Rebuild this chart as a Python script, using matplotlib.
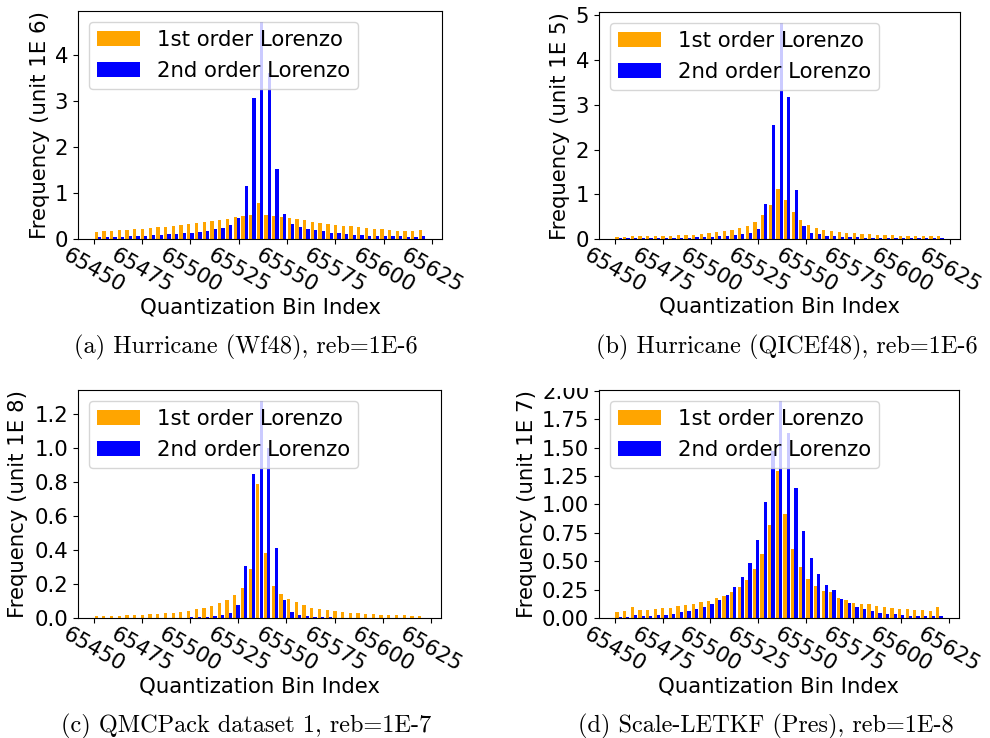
import numpy as np
import matplotlib
matplotlib.use("Agg")
import matplotlib.pyplot as plt
from matplotlib.ticker import MultipleLocator
from matplotlib.transforms import Bbox, TransformedBbox

# Quantization bins shown (every 4th bin around the zero-error bin 65536)
bin_index = np.arange(65452, 65621, 4)
tick_values = [65450, 65475, 65500, 65525, 65550, 65575, 65600, 65625]
tick_labels = [str(v) for v in tick_values]

series_names = ["1st order Lorenzo", "2nd order Lorenzo"]

# (a) Hurricane (Wf48), unit 1E6
wf48_first = [0.159, 0.174, 0.181, 0.196, 0.203, 0.217, 0.232, 0.246, 0.261, 0.275,
              0.297, 0.312, 0.333, 0.355, 0.377, 0.406, 0.428, 0.449, 0.478, 0.500,
              0.522, 0.783, 0.529, 0.507, 0.486, 0.464, 0.435, 0.413, 0.384, 0.362,
              0.333, 0.312, 0.297, 0.283, 0.268, 0.246, 0.225, 0.217, 0.203, 0.188,
              0.181, 0.174, 0.203]
wf48_second = [0.050, 0.050, 0.050, 0.058, 0.065, 0.072, 0.080, 0.087, 0.094, 0.109,
               0.116, 0.130, 0.145, 0.167, 0.188, 0.217, 0.254, 0.312, 0.464, 1.167,
               3.065, 4.730, 3.609, 1.529, 0.551, 0.341, 0.268, 0.225, 0.203, 0.174,
               0.138, 0.130, 0.116, 0.101, 0.087, 0.072, 0.072, 0.072, 0.065, 0.065,
               0.058, 0.058, 0.065]

# (b) Hurricane (QICEf48), unit 1E5
qice_first = [0.060, 0.060, 0.067, 0.067, 0.074, 0.074, 0.082, 0.082, 0.089, 0.097,
              0.104, 0.119, 0.134, 0.156, 0.178, 0.208, 0.245, 0.297, 0.386, 0.542,
              0.765, 1.129, 0.869, 0.617, 0.431, 0.320, 0.253, 0.208, 0.186, 0.163,
              0.149, 0.134, 0.126, 0.111, 0.104, 0.097, 0.089, 0.082, 0.074, 0.074,
              0.067, 0.067, 0.074]
qice_second = [0.022, 0.022, 0.022, 0.022, 0.030, 0.030, 0.030, 0.030, 0.037, 0.037,
               0.045, 0.052, 0.059, 0.067, 0.082, 0.097, 0.111, 0.134, 0.223, 0.788,
               2.548, 4.830, 3.180, 1.100, 0.290, 0.149, 0.111, 0.082, 0.067, 0.059,
               0.052, 0.045, 0.037, 0.037, 0.030, 0.030, 0.030, 0.022, 0.022, 0.022,
               0.022, 0.022, 0.022]

# (c) QMCPack dataset 1, unit 1E8
qmc_first = [0.011, 0.012, 0.014, 0.016, 0.018, 0.020, 0.022, 0.024, 0.027, 0.029,
             0.033, 0.039, 0.045, 0.053, 0.062, 0.074, 0.090, 0.109, 0.135, 0.176,
             0.290, 0.787, 0.380, 0.190, 0.144, 0.115, 0.094, 0.076, 0.062, 0.055,
             0.047, 0.041, 0.037, 0.033, 0.030, 0.027, 0.024, 0.022, 0.020, 0.018,
             0.017, 0.016, 0.016]
qmc_second = [0.001, 0.001, 0.001, 0.001, 0.001, 0.002, 0.002, 0.002, 0.002, 0.003,
              0.003, 0.004, 0.005, 0.006, 0.010, 0.014, 0.018, 0.031, 0.080, 0.308,
              0.845, 1.274, 0.995, 0.410, 0.110, 0.037, 0.020, 0.014, 0.010, 0.008,
              0.006, 0.004, 0.003, 0.003, 0.002, 0.002, 0.002, 0.001, 0.001, 0.001,
              0.001, 0.001, 0.001]

# (d) Scale-LETKF (Pres), unit 1E7
letkf_first = [0.058, 0.064, 0.102, 0.073, 0.076, 0.082, 0.087, 0.093, 0.105, 0.114,
               0.125, 0.140, 0.155, 0.175, 0.200, 0.233, 0.277, 0.335, 0.429, 0.566,
               0.817, 1.292, 0.913, 0.612, 0.449, 0.344, 0.283, 0.236, 0.230, 0.178,
               0.157, 0.131, 0.125, 0.122, 0.108, 0.099, 0.090, 0.085, 0.079, 0.076,
               0.073, 0.067, 0.096]
letkf_second = [0.012, 0.012, 0.030, 0.020, 0.020, 0.026, 0.030, 0.038, 0.052, 0.064,
                0.079, 0.099, 0.125, 0.163, 0.207, 0.274, 0.362, 0.484, 0.685, 1.018,
                1.467, 1.910, 1.627, 1.146, 0.764, 0.528, 0.388, 0.292, 0.245, 0.166,
                0.131, 0.099, 0.079, 0.064, 0.050, 0.041, 0.035, 0.029, 0.023, 0.017,
                0.017, 0.017, 0.023]

ylabels = ["Frequency (unit 1E 6)", "Frequency (unit 1E 5)",
           "Frequency (unit 1E 8)", "Frequency (unit 1E 7)"]
captions = ["(a) Hurricane (Wf48), reb=1E-6",
            "(b) Hurricane (QICEf48), reb=1E-6",
            "(c) QMCPack dataset 1, reb=1E-7",
            "(d) Scale-LETKF (Pres), reb=1E-8"]
ytick_steps = [1, 1, 0.2, 0.25]

W, H = 990, 738
FS = 15.3
BAR_W = 1.7
ORANGE = "#FFA500"
BLUE = "#0000FF"

fig = plt.figure(figsize=(W / 100, H / 100), dpi=100)
fig.patch.set_facecolor("white")


def axes_px(left, top, right, bottom):
    return fig.add_axes([left / W, 1 - bottom / H, (right - left) / W, (bottom - top) / H])


# axes box (pixels), caption anchor (pixels), y-label offset (axes fraction)
panels = [
    (axes_px(78, 11, 442, 239.3), wf48_first, wf48_second, (246, 353), -0.077),
    (axes_px(599, 12, 960, 239.3), qice_first, qice_second, (787, 353), -0.080),
    (axes_px(78, 390, 441, 618.3), qmc_first, qmc_second, (246, 732), -0.137),
    (axes_px(599, 390, 959, 618.3), letkf_first, letkf_second, (766, 732), -0.173),
]

for i, (ax, first, second, cap_xy, ylab_x) in enumerate(panels):
    ax.bar(bin_index - BAR_W / 2, first, width=BAR_W, color=ORANGE, label=series_names[0])
    ax.bar(bin_index + BAR_W / 2, second, width=BAR_W, color=BLUE, label=series_names[1])
    ax.set_xticks(tick_values)
    ax.set_xticklabels(tick_labels, rotation=-30, fontsize=FS)
    ax.tick_params(axis="x", pad=0.6)
    ax.yaxis.set_major_locator(MultipleLocator(ytick_steps[i]))
    ax.tick_params(axis="y", labelsize=FS)
    ax.set_xlabel("Quantization Bin Index", fontsize=FS)
    ax.xaxis.set_label_coords(0.5, -0.253)
    ax.set_ylabel(ylabels[i], fontsize=FS)
    ax.yaxis.set_label_coords(ylab_x, 0.5)
    ax.legend(loc="upper left", fontsize=FS)
    fig.text(cap_xy[0] / W, 1 - cap_xy[1] / H, captions[i], family="cmr10",
             fontsize=17.5, ha="center", va="baseline")

fig.canvas.draw()
# the bottom-right panel's topmost y tick label is cut at the panel's upper edge
clip = TransformedBbox(Bbox([[0, 0], [1, 1 - 388 / H]]), fig.transFigure)
for t in panels[3][0].yaxis.get_major_ticks():
    t.label1.set_clip_box(clip)
    t.label1.set_clip_on(True)

fig.savefig("out.png", dpi=100, facecolor="white")
